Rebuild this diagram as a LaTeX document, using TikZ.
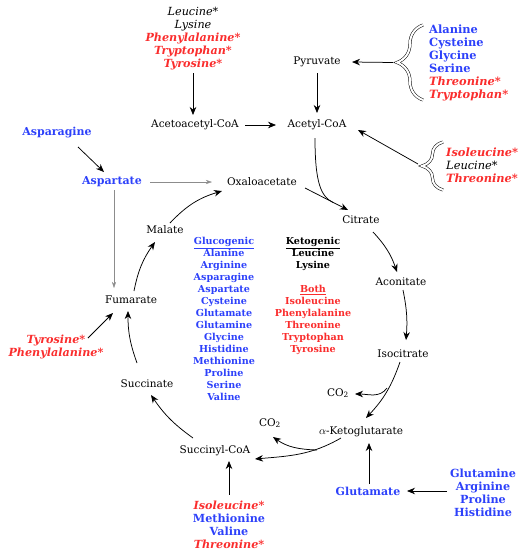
\documentclass[tikz,border=0pt]{standalone}
\usepackage{fontspec}
\setmainfont{DejaVu Serif}
\usetikzlibrary{arrows.meta,decorations.pathreplacing,calc}
\definecolor{ablue}{RGB}{45,65,250}
\definecolor{ared}{RGB}{250,45,45}
\newcommand{\gb}[1]{{\color{ablue}\bfseries #1}}
\newcommand{\rbi}[1]{{\color{ared}\bfseries\itshape #1}}
\newcommand{\kit}[1]{{\itshape #1}}
\begin{document}
\begin{tikzpicture}[x=1pt,y=1pt,
  lab/.style={inner sep=1pt, font=\fontsize{10.5}{12}\selectfont},
  blab/.style={inner sep=1pt, font=\fontsize{11}{12}\selectfont},
  slst/.style={inner sep=1pt, align=center, font=\fontsize{9.6}{12}\selectfont\bfseries},
  blst/.style={inner sep=1pt, align=center, font=\fontsize{11.2}{13}\selectfont},
  llst/.style={inner sep=1pt, align=left, anchor=west, font=\fontsize{11.4}{13}\selectfont},
  arr/.style={-{Stealth[length=8pt,width=6.5pt]}, line width=0.75pt},
  garr/.style={-{Stealth[length=6pt,width=4pt]}, line width=0.4pt, black!45},
  brc/.style={decorate, decoration={brace, amplitude=#1}, double, double distance=2pt, line width=0.5pt}
]
\useasboundingbox (0,0) rectangle (529,-560);

% nodes
\node[blst] (toplist) at (193,-39) {\kit{Leucine*}\\ \kit{Lysine}\\ \rbi{Phenylalanine*}\\ \rbi{Tryptophan*}\\ \rbi{Tyrosine*}};
\node[lab] (acac) at (195,-125) {Acetoacetyl-CoA};
\node[lab] (acetyl) at (317,-125) {Acetyl-CoA};
\node[lab] (pyr) at (317,-62) {Pyruvate};
\node[llst] (pyrlist) at (428,-62.5) {\gb{Alanine}\\ \gb{Cysteine}\\ \gb{Glycine}\\ \gb{Serine}\\ \rbi{Threonine*}\\ \rbi{Tryptophan*}};
\node[llst] (ilelist) at (445,-165) {\rbi{Isoleucine*}\\ \kit{Leucine*}\\ \rbi{Threonine*}};
\node[blab] (asn) at (57,-133) {\gb{Asparagine}};
\node[blab] (asp) at (112,-182) {\gb{Aspartate}};
\node[lab] (oxal) at (262,-182) {Oxaloacetate};
\node[lab] (cit) at (361,-220) {Citrate};
\node[lab] (aco) at (401,-282) {Aconitate};
\node[lab] (iso) at (403,-354) {Isocitrate};
\node[lab] (co2a) at (338,-393) {CO\textsubscript{2}};
\node[lab] (akg) at (361,-432) {$\alpha$-Ketoglutarate};
\node[lab] (co2b) at (270,-423) {CO\textsubscript{2}};
\node[lab] (succoa) at (215,-451) {Succinyl-CoA};
\node[lab] (suc) at (147,-384) {Succinate};
\node[lab] (fum) at (131,-300) {Fumarate};
\node[lab] (mal) at (165,-230) {Malate};
\node[blst] (tyrlist) at (56,-346.5) {\rbi{Tyrosine*}\\ \rbi{Phenylalanine*}};
\node[blst] (ivlist) at (229,-524.5) {\rbi{Isoleucine*}\\ \gb{Methionine}\\ \gb{Valine}\\ \rbi{Threonine*}};
\node[blab] (glu) at (368,-491) {\gb{Glutamate}};
\node[blst] (glist) at (483,-492.5) {\gb{Glutamine}\\ \gb{Arginine}\\ \gb{Proline}\\ \gb{Histidine}};
\node[slst, text=ablue] (gluco) at (224,-319) {\underline{Glucogenic}\\ Alanine\\ Arginine\\ Asparagine\\ Aspartate\\ Cysteine\\ Glutamate\\ Glutamine\\ Glycine\\ Histidine\\ Methionine\\ Proline\\ Serine\\ Valine};
\node[slst] (keto) at (313,-254) {\underline{Ketogenic}\\ Leucine\\ Lysine};
\node[slst, text=ared] (both) at (313,-320) {\underline{Both}\\ Isoleucine\\ Phenylalanine\\ Threonine\\ Tryptophan\\ Tyrosine};

% braces
\draw[brc=26pt] (423,-100) -- (423,-25);
\draw[brc=21pt] (443,-190) -- (443,-142);
\coordinate (b1) at (393,-62.5);
\coordinate (b2) at (418,-164);

% connectors
\draw[arr] ($(toplist)+(0,-34)$) -- ($(acac)+(-2,10)$);
\draw[arr] ($(acac)+(50,0)$) -- ($(acetyl)+(-41,0)$);
\draw[arr] ($(pyr)+(0,-11)$) -- ($(acetyl)+(0,12)$);
\draw[arr] (b1) -- ($(pyr)+(35,0)$);
\draw[arr] (b2) -- ($(acetyl)+(41,-5)$);
\draw[arr] ($(asn)+(21,-14)$) -- ($(asp)+(-8,10)$);
\draw[garr] ($(asp)+(38,0)$) -- ($(oxal)+(-50,0)$);
\draw[garr] ($(asp)+(2,-8)$) -- ($(fum)+(-17,12)$);
\draw[arr] ($(fum)+(3,9)$) to[bend left=12] ($(mal)+(-10,-12)$);
\draw[arr] ($(mal)+(5,7)$) to[bend left=15] ($(oxal)+(-40,-9)$);
\draw[arr] ($(suc)+(-10,21)$) to[bend left=10] ($(fum)+(-3,-11)$);
\draw[arr] ($(tyrlist)+(32,8.5)$) -- ($(fum)+(-18,-13)$);
\draw[arr] ($(succoa)+(-22,13)$) to[bend left=10] ($(suc)+(4,-11)$);
\draw[arr] ($(oxal)+(43,-6)$) -- ($(cit)+(-13,10)$);
\coordinate (merge) at (333,-202.5);
\draw[line width=0.75pt] ($(acetyl)+(-2,-13)$) .. controls +(0,-45) and +(-12,6) .. (merge);
\draw[arr] ($(cit)+(12,-12)$) to[bend left=12] ($(aco)+(-4,10)$);
\draw[arr] ($(aco)+(2,-8)$) to[bend left=8] ($(iso)+(3,14)$);
\draw[arr] ($(iso)+(-3,-8)$) to[bend left=12] ($(akg)+(5,14)$);
\coordinate (br1) at (387,-388);
\draw[arr] (br1) to[out=-125,in=0] ($(co2a)+(17,-1)$);
\draw[arr] ($(akg)+(-20,-6)$) to[out=-150,in=5] ($(succoa)+(40,-8)$);
\coordinate (br2) at (317,-450);
\draw[arr] (br2) to[out=178,in=-35] ($(co2b)+(3,-14)$);
\draw[arr] ($(ivlist)+(0,30)$) -- ($(succoa)+(14,-10)$);
\draw[arr] ($(glu)+(1,7)$) -- ($(akg)+(8,-11)$);
\draw[arr] ($(glist)+(-36,1.5)$) -- ($(glu)+(39,0)$);
\end{tikzpicture}
\end{document}
